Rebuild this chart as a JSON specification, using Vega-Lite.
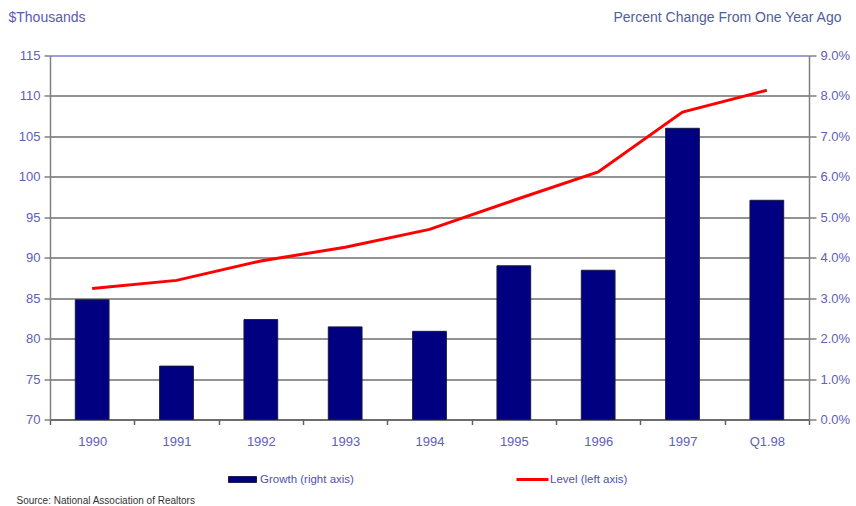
{
  "$schema": "https://vega.github.io/schema/vega-lite/v6.json",
  "autosize": "none",
  "width": 759,
  "height": 364,
  "padding": {"left": 50, "top": 55.5, "right": 47, "bottom": 86.5},
  "background": "white",
  "config": {
    "font": "Liberation Sans",
    "view": {"stroke": null},
    "axis": {
      "labelFont": "Liberation Sans",
      "labelFontSize": 13,
      "labelColor": "#6060b8",
      "titleFont": "Liberation Sans",
      "titleFontWeight": "normal",
      "domainColor": "#808080",
      "tickColor": "#808080",
      "domainWidth": 1.5,
      "tickWidth": 1.5
    }
  },
  "data": {
    "values": [
      {"period": "1990", "level": 86.2, "growth": 0.0296},
      {"period": "1991", "level": 87.2, "growth": 0.0132},
      {"period": "1992", "level": 89.6, "growth": 0.0247},
      {"period": "1993", "level": 91.3, "growth": 0.0229},
      {"period": "1994", "level": 93.5, "growth": 0.0218},
      {"period": "1995", "level": 97.1, "growth": 0.0380},
      {"period": "1996", "level": 100.6, "growth": 0.0369},
      {"period": "1997", "level": 108.0, "growth": 0.0720},
      {"period": "Q1.98", "level": 110.7, "growth": 0.0542}
    ]
  },
  "encoding": {
    "x": {
      "field": "period",
      "type": "ordinal",
      "sort": null,
      "scale": {"paddingInner": 0, "paddingOuter": 0},
      "axis": {
        "labelAngle": 0,
        "tickBand": "extent",
        "tickSize": 5,
        "labelPadding": 11,
        "domainColor": "#606060",
        "tickColor": "#606060",
        "title": "Source: National Association of Realtors",
        "titleFontSize": 10,
        "titleColor": "#333333",
        "titleAlign": "left",
        "titleBaseline": "middle",
        "titleAnchor": null,
        "titleX": -34,
        "titleY": 80.5
      }
    }
  },
  "layer": [
    {
      "mark": {"type": "bar", "width": {"band": 0.4}, "stroke": "#1a1a40", "strokeWidth": 1},
      "encoding": {
        "y": {
          "field": "growth",
          "type": "quantitative",
          "scale": {"domain": [0, 0.09], "nice": false, "zero": true},
          "axis": {
            "orient": "right",
            "values": [0, 0.01, 0.02, 0.03, 0.04, 0.05, 0.06, 0.07, 0.08, 0.09],
            "format": ".1%",
            "grid": false,
            "tickSize": 7,
            "labelPadding": 4,
            "title": "Percent Change From One Year Ago",
            "titleFontSize": 14,
            "titleColor": "#50609a",
            "titleAngle": 0,
            "titleAlign": "right",
            "titleBaseline": "middle",
            "titleX": 32,
            "titleY": -38.5
          }
        },
        "fill": {
          "datum": "Growth (right axis)",
          "scale": {"range": ["#000080"]},
          "legend": {
            "title": null,
            "orient": "none",
            "legendX": 178,
            "legendY": 409.5,
            "padding": 0,
            "symbolType": "M-1,-0.21L1,-0.21L1,0.21L-1,0.21Z",
            "symbolSize": 784,
            "symbolStrokeColor": "#1a1a40",
            "symbolStrokeWidth": 1,
            "labelFont": "Liberation Sans",
            "labelFontSize": 11.5,
            "labelColor": "#5050b0",
            "labelOffset": 3
          }
        }
      }
    },
    {
      "mark": {"type": "line", "strokeWidth": 3},
      "encoding": {
        "y": {
          "field": "level",
          "type": "quantitative",
          "scale": {"domain": [70, 115], "nice": false, "zero": false},
          "axis": {
            "orient": "left",
            "values": [70, 75, 80, 85, 90, 95, 100, 105, 110, 115],
            "grid": true,
            "gridColor": {"condition": {"test": "datum.value == 115", "value": "#7878d0"}, "value": "#6e6e6e"},
            "gridWidth": 1.5,
            "tickSize": 6,
            "labelPadding": 4,
            "title": "$Thousands",
            "titleFontSize": 14,
            "titleColor": "#5a5ab0",
            "titleAngle": 0,
            "titleAlign": "left",
            "titleBaseline": "middle",
            "titleX": -42,
            "titleY": -38.5
          }
        },
        "stroke": {
          "datum": "Level (left axis)",
          "scale": {"range": ["#ff0000"]},
          "legend": {
            "title": null,
            "orient": "none",
            "legendX": 465,
            "legendY": 406.5,
            "padding": 0,
            "symbolType": "stroke",
            "symbolSize": 1024,
            "symbolStrokeWidth": 3,
            "labelFont": "Liberation Sans",
            "labelFontSize": 11.5,
            "labelColor": "#5050b0",
            "labelOffset": 0
          }
        }
      }
    }
  ],
  "resolve": {"scale": {"y": "independent"}}
}
